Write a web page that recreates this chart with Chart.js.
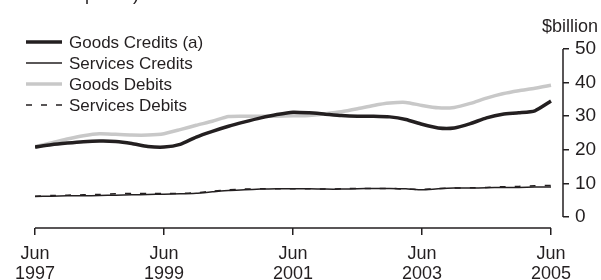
<!DOCTYPE html>
<html>
<head>
<meta charset="utf-8">
<script src="https://cdn.jsdelivr.net/npm/chart.js@4"></script>
<style>
  html, body { margin: 0; padding: 0; background: #fff; }
  #wrap { width: 601px; height: 280px; position: relative; }
</style>
</head>
<body>
<div id="wrap"><canvas id="chart" width="601" height="280"></canvas></div>
<script>
// quarterly, Jun 1997 - Jun 2005, $billion
const quarters = [
  'Jun-1997', 'Sep-1997', 'Dec-1997', 'Mar-1998', 'Jun-1998', 'Sep-1998', 'Dec-1998', 'Mar-1999',
  'Jun-1999', 'Sep-1999', 'Dec-1999', 'Mar-2000', 'Jun-2000', 'Sep-2000', 'Dec-2000', 'Mar-2001',
  'Jun-2001', 'Sep-2001', 'Dec-2001', 'Mar-2002', 'Jun-2002', 'Sep-2002', 'Dec-2002', 'Mar-2003',
  'Jun-2003', 'Sep-2003', 'Dec-2003', 'Mar-2004', 'Jun-2004', 'Sep-2004', 'Dec-2004', 'Mar-2005',
  'Jun-2005'
];
const tickQuarters = ['Jun-1997', 'Jun-1999', 'Jun-2001', 'Jun-2003', 'Jun-2005'];
const yTicks = [0, 10, 20, 30, 40, 50];

const goodsCredits = [
  20.8, 21.5, 22.0, 22.4, 22.6, 22.5, 21.9, 21.0,
  20.8, 21.6, 23.8, 25.5, 27.0, 28.3, 29.5, 30.5,
  31.2, 31.0, 30.6, 30.2, 30.0, 30.0, 29.8, 29.0,
  27.6, 26.5, 26.5, 27.8, 29.5, 30.6, 31.0, 31.6,
  34.5
];
const servicesCredits = [
  6.1, 6.2, 6.3, 6.3, 6.4, 6.5, 6.6, 6.7,
  6.8, 6.9, 7.1, 7.5, 7.9, 8.1, 8.3, 8.4,
  8.4, 8.4, 8.3, 8.3, 8.4, 8.5, 8.5, 8.4,
  8.1, 8.4, 8.6, 8.6, 8.7, 8.8, 8.8, 8.9,
  8.9
];
const goodsDebits = [
  21.0, 22.0, 23.2, 24.2, 24.8, 24.6, 24.4, 24.4,
  24.8, 26.0, 27.3, 28.5, 29.9, 30.0, 30.0, 30.0,
  30.1, 30.2, 30.7, 31.3, 32.2, 33.2, 33.9, 34.1,
  33.2, 32.5, 32.6, 33.8, 35.4, 36.7, 37.6, 38.3,
  39.2
];
const servicesDebits = [
  6.2, 6.4, 6.5, 6.6, 6.7, 6.9, 7.0, 7.0,
  7.0, 7.0, 7.2, 7.7, 8.1, 8.3, 8.4, 8.4,
  8.4, 8.4, 8.3, 8.4, 8.5, 8.5, 8.5, 8.3,
  8.2, 8.5, 8.6, 8.7, 8.8, 9.0, 9.1, 9.3,
  9.4
];

const INK = '#231f20';
const FONT = 'Liberation Sans, Arial, sans-serif';

function pts(arr) {
  return arr.map((v, i) => ({ x: i, y: v }));
}

// axis lines only span the data range, plus the stacked legend top-left
const decor = {
  id: 'decor',
  afterDraw(chart) {
    const ctx = chart.ctx;
    const x = chart.scales.x, y = chart.scales.y;
    const last = quarters.length - 1;
    ctx.save();
    ctx.strokeStyle = INK;
    ctx.lineWidth = 1.5;
    ctx.beginPath();
    ctx.moveTo(x.getPixelForValue(0), chart.chartArea.bottom);
    ctx.lineTo(x.getPixelForValue(last), chart.chartArea.bottom);
    ctx.moveTo(chart.chartArea.right, y.getPixelForValue(yTicks[0]));
    ctx.lineTo(chart.chartArea.right, y.getPixelForValue(yTicks[yTicks.length - 1]));
    ctx.stroke();

    // cut-off heading line at the very top
    ctx.fillStyle = INK;
    ctx.font = '18px ' + FONT;
    ctx.textBaseline = 'alphabetic';
    ctx.fillText('current prices)', 24, 0);

    // legend
    ctx.font = '17px ' + FONT;
    ctx.textBaseline = 'middle';
    chart.data.datasets.forEach((ds, i) => {
      const ly = 42 + i * 21;
      ctx.beginPath();
      ctx.strokeStyle = ds.borderColor;
      ctx.lineWidth = ds.borderWidth;
      ctx.setLineDash(ds.borderDash || []);
      ctx.moveTo(26, ly);
      ctx.lineTo(62, ly);
      ctx.stroke();
      ctx.setLineDash([]);
      ctx.fillStyle = INK;
      ctx.fillText(ds.label, 69, ly + 1);
    });
    ctx.restore();
  }
};

new Chart(document.getElementById('chart'), {
  type: 'line',
  data: {
    datasets: [
      { label: 'Goods Credits (a)', data: pts(goodsCredits), borderColor: INK, borderWidth: 3.5, order: 0 },
      { label: 'Services Credits', data: pts(servicesCredits), borderColor: INK, borderWidth: 1.5, order: 2 },
      { label: 'Goods Debits', data: pts(goodsDebits), borderColor: '#c8c8c8', borderWidth: 3.5, order: 3 },
      { label: 'Services Debits', data: pts(servicesDebits), borderColor: INK, borderWidth: 1.5, borderDash: [6, 9], order: 1 }
    ]
  },
  options: {
    responsive: false,
    animation: false,
    events: [],
    elements: {
      point: { radius: 0 },
      line: { tension: 0.2, fill: false, borderJoinStyle: 'round', borderCapStyle: 'butt' }
    },
    layout: { padding: { top: 0, left: 35, right: 3, bottom: 0 } },
    plugins: {
      legend: { display: false },
      tooltip: { enabled: false },
      title: {
        display: true,
        text: '$billion',
        align: 'end',
        color: INK,
        font: { family: FONT, size: 18, weight: 'normal', lineHeight: 1.2 },
        padding: { top: 16, bottom: 11.4 }
      }
    },
    scales: {
      x: {
        type: 'linear',
        min: 0,
        max: 32 * 528 / 516,
        border: { display: false },
        grid: { drawOnChartArea: false, drawTicks: true, tickLength: 7, color: INK, lineWidth: 1.5 },
        afterBuildTicks(scale) {
          scale.ticks = tickQuarters.map(q => ({ value: quarters.indexOf(q) }));
        },
        afterFit(scale) { scale.height = 52; },
        ticks: {
          autoSkip: false,
          maxRotation: 0,
          padding: 9,
          color: INK,
          font: { family: FONT, size: 18, lineHeight: 1.12 },
          callback: v => quarters[v] ? quarters[v].split('-') : ''
        }
      },
      y: {
        position: 'right',
        min: -(11 / 168) * 50,
        max: 50,
        border: { display: false },
        grid: { drawOnChartArea: false, drawTicks: true, tickLength: 6, color: INK, lineWidth: 1.5 },
        afterBuildTicks(scale) {
          scale.ticks = yTicks.map(v => ({ value: v }));
        },
        afterFit(scale) { scale.width = 35; },
        ticks: {
          padding: 6,
          color: INK,
          font: { family: FONT, size: 19 }
        }
      }
    }
  },
  plugins: [decor]
});
</script>
</body>
</html>
